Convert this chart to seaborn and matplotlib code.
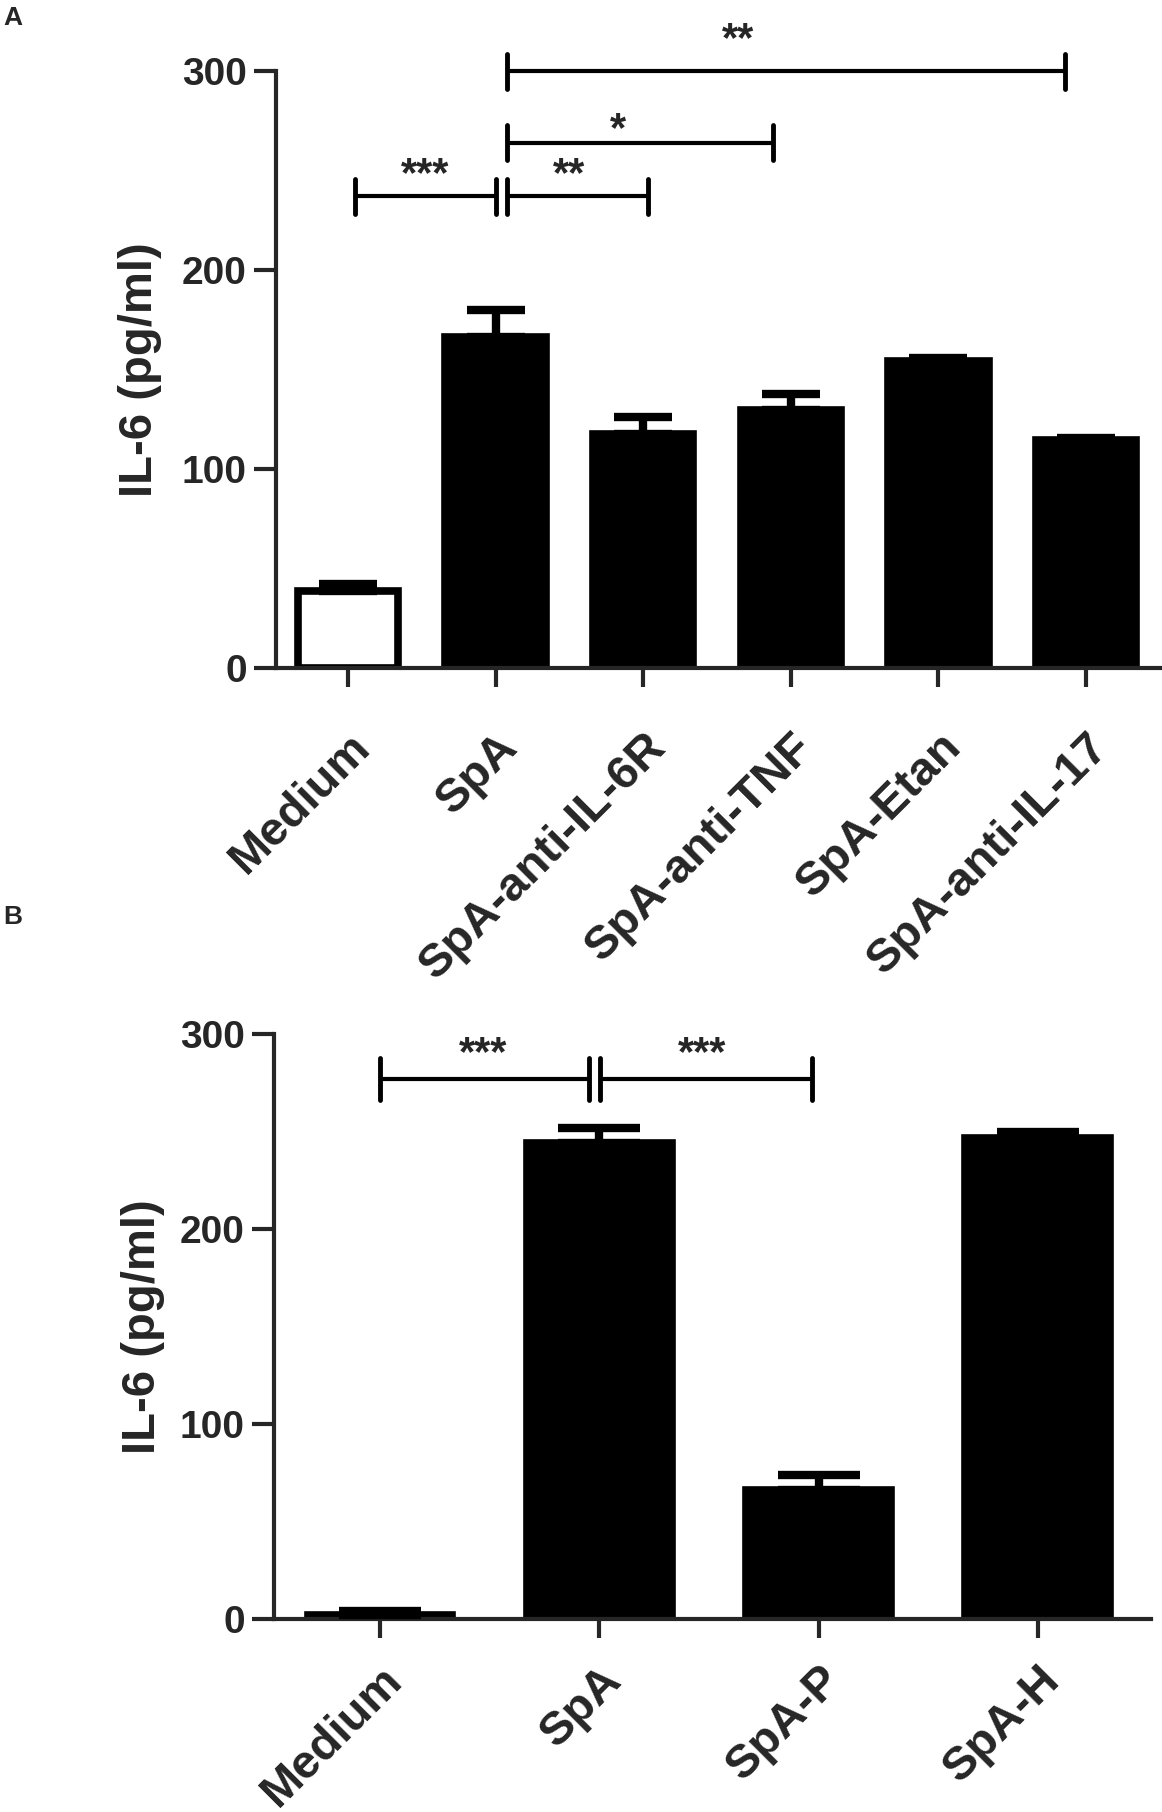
import matplotlib
matplotlib.use("Agg")
import matplotlib.pyplot as plt
import seaborn as sns

# panel A data (IL-6, mean and SEM)
labels_a = ["Medium", "SpA", "SpA-anti-IL-6R", "SpA-anti-TNF", "SpA-Etan", "SpA-anti-IL-17"]
il6_a = [38.5, 166.5, 117.5, 129.5, 154.5, 114.5]
sem_a = [3.5, 13.5, 8.5, 8.0, 1.5, 1.0]
fill_a = ["white", "black", "black", "black", "black", "black"]

# significance brackets for panel A: (start, end, height, stars)
pairs_a = [(0.05, 1.0), (1.08, 2.03), (1.08, 2.88), (1.08, 4.86)]
levels_a = [237, 237, 264, 300]
stars_a = ["***", "**", "*", "**"]
star_x_a = [0.52, 1.50, 1.83, 2.64]
star_y_a = [242, 242, 265, 310]

# panel B data
labels_b = ["Medium", "SpA", "SpA-P", "SpA-H"]
il6_b = [2, 244, 66, 246.5]
sem_b = [2, 8, 8, 3]
fill_b = ["black", "black", "black", "black"]

pairs_b = [(0.0, 0.955), (1.005, 1.97)]
levels_b = [277, 277]
stars_b = ["***", "***"]
star_x_b = [0.47, 1.47]
star_y_b = [284, 284]

sns.set_style("ticks")
plt.rcParams["font.family"] = ["Liberation Sans", "DejaVu Sans"]
plt.rcParams["font.weight"] = "bold"
plt.rcParams["axes.linewidth"] = 3

fig = plt.figure(figsize=(11.62, 18.12), dpi=100)


def draw_panel(ax, labels, values, sems, fills, width, capsize, pairs, levels,
               stars, star_x, star_y, tick_h, xlim, label_x, xpad):
    sns.barplot(x=labels, y=values, hue=labels, palette=fills, legend=False,
                width=width, edgecolor="black", linewidth=5.5, saturation=1,
                errorbar=None, ax=ax)
    ax.errorbar(range(len(values)), values, yerr=[[0] * len(sems), sems],
                fmt="none", ecolor="black", elinewidth=6, capsize=capsize,
                capthick=6, zorder=3)
    ax.set_xlim(*xlim)
    ax.set_ylim(0, 300)
    ax.set_yticks([0, 100, 200, 300])
    sns.despine(ax=ax)
    ax.tick_params(axis="y", length=16, width=3, pad=5, labelsize=28)
    ax.tick_params(axis="x", length=14, width=3, pad=xpad, labelsize=34)
    plt.setp(ax.get_xticklabels(), rotation=45, ha="right",
             rotation_mode="anchor")
    ax.set_xlabel("")
    ax.set_ylabel("IL-6 (pg/ml)", fontsize=34, fontweight="bold")
    ax.yaxis.set_label_coords(label_x, 0.5)

    for (x1, x2), y, s, sx, sy in zip(pairs, levels, stars, star_x, star_y):
        ax.plot([x1, x2], [y, y], color="black", lw=3, clip_on=False,
                solid_capstyle="butt")
        for xe in (x1, x2):
            ax.plot([xe, xe], [y - tick_h, y + tick_h], color="black", lw=3.5,
                    clip_on=False)
        ax.text(sx, sy, s, ha="center", va="baseline", fontsize=30,
                fontweight="bold", clip_on=False)


ax_a = fig.add_axes([0.2375, 0.6313, 0.7625, 0.3295])
draw_panel(ax_a, labels_a, il6_a, sem_a, fill_a, 0.68, 21, pairs_a, levels_a,
           stars_a, star_x_a, star_y_a, 8.8, (-0.488, 5.515), -0.1287, 27)

ax_b = fig.add_axes([0.2358, 0.1065, 0.7547, 0.3229])
draw_panel(ax_b, labels_b, il6_b, sem_b, fill_b, 0.66, 29.5, pairs_b, levels_b,
           stars_b, star_x_b, star_y_b, 10.8, (-0.483, 3.516), -0.124, 14)

fig.text(0.003, 1 - 6 / 1812, "A", ha="left", va="top", fontsize=19,
         fontweight="bold")
fig.text(0.003, 1 - 905 / 1812, "B", ha="left", va="top", fontsize=19,
         fontweight="bold")

fig.savefig("out.png", dpi=100)
